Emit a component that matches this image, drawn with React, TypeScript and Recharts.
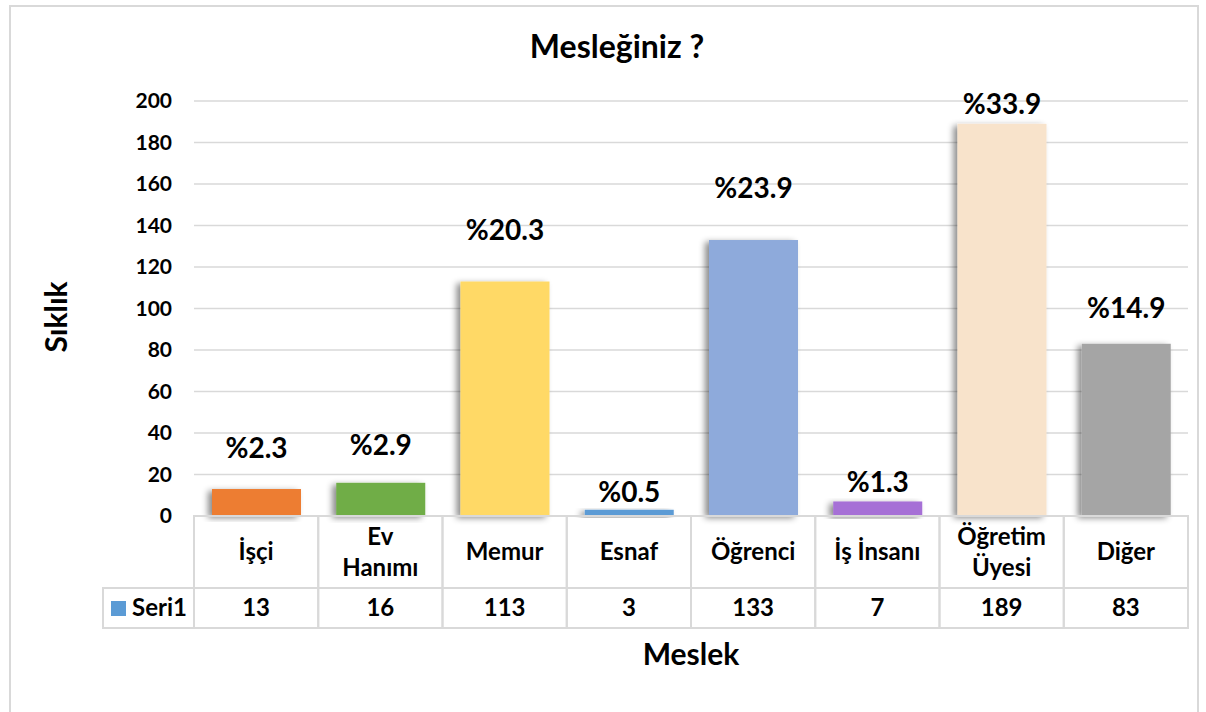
import React from 'react';
import { BarChart, Bar, XAxis, YAxis, CartesianGrid, LabelList } from 'recharts';

const categories = ['İşçi', 'Ev\nHanımı', 'Memur', 'Esnaf', 'Öğrenci', 'İş İnsanı', 'Öğretim\nÜyesi', 'Diğer'];
const counts = [13, 16, 113, 3, 133, 7, 189, 83];
const percents = [2.3, 2.9, 20.3, 0.5, 23.9, 1.3, 33.9, 14.9];
const yTicks = [0, 20, 40, 60, 80, 100, 120, 140, 160, 180, 200];
const seriesName = 'Seri1';

const barColors = ['#ed7d31', '#70ad47', '#ffd966', '#5b9bd5', '#8eaadb', '#a66fd6', '#f8e3cb', '#a5a5a5'];
// gap between bar top and the baseline of its percentage label
const labelLift = [31, 28, 42, 8, 42, 9, 10, 26];

const data = categories.map((name, i) => ({ name, value: counts[i], pct: percents[i] }));

const W = 1190;
const H = 720;
const M = { top: 96, right: 11, left: 0, bottom: 97 };
const Y_W = 185;
const TABLE_H = 112;
const BAND = (W - M.left - M.right - Y_W) / categories.length;
const FONT = 'Lato, "Open Sans", sans-serif';
const LINE = '#d9d9d9';

const TableTick = (props: any) => {
  const { x, y, payload, index } = props;
  const left = x - BAND / 2;
  const lines = String(payload.value).split('\n');
  const text = { fontFamily: FONT, fontWeight: 700, fontSize: 24, fill: '#000' };
  return (
    <g>
      <rect x={left} y={y} width={BAND} height={72} fill="none" stroke={LINE} strokeWidth={2} />
      <rect x={left} y={y + 72} width={BAND} height={40} fill="none" stroke={LINE} strokeWidth={2} />
      {lines.length === 1 ? (
        <text x={x} y={y + 44} textAnchor="middle" {...text}>{lines[0]}</text>
      ) : (
        lines.map((l, i) => (
          <text key={i} x={x} y={y + 29 + i * 31} textAnchor="middle" {...text}>{l}</text>
        ))
      )}
      <text x={x} y={y + 100} textAnchor="middle" {...text}>{counts[index]}</text>
      {index === 0 && (
        <g>
          <rect x={left - 91} y={y + 72} width={91} height={40} fill="none" stroke={LINE} strokeWidth={2} />
          <rect x={left - 83} y={y + 85} width={15} height={15} fill="#5b9bd5" />
          <text x={left - 62} y={y + 100} {...text}>{seriesName}</text>
        </g>
      )}
    </g>
  );
};

const PctLabel = (props: any) => {
  const { x, y, width, value, index } = props;
  return (
    <text
      x={x + width / 2}
      y={y - labelLift[index]}
      textAnchor="middle"
      fontFamily={FONT}
      fontWeight={700}
      fontSize={28}
      fill="#000"
    >
      {'%' + Number(value).toFixed(1)}
    </text>
  );
};

const ShadowBar = (props: any) => {
  const { x, y, width, height, index } = props;
  if (!height || height <= 0) return null;
  return <rect x={x} y={y} width={width} height={height} fill={barColors[index] ?? props.fill} filter="url(#barShadow)" />;
};

export default function App() {
  return (
    <div style={{ position: 'absolute', left: 9, top: 5, width: W, height: H, background: '#fff' }}>
      <BarChart width={W} height={H} data={data} margin={M} barSize={89}>
        <defs>
          <filter id="barShadow" x="-20%" y="-20%" width="140%" height="140%">
            <feDropShadow dx={-4} dy={2} stdDeviation={3} floodColor="#000" floodOpacity={0.45} />
          </filter>
        </defs>
        <CartesianGrid vertical={false} stroke={LINE} strokeWidth={1.5} />
        <YAxis
          width={Y_W}
          domain={[0, 200]}
          ticks={yTicks}
          interval={0}
          axisLine={false}
          tickLine={false}
          tickSize={0}
          tickMargin={22}
          tick={{ fontFamily: FONT, fontWeight: 700, fontSize: 21, fill: '#000' }}
        />
        <XAxis
          dataKey="name"
          height={TABLE_H}
          interval={0}
          axisLine={false}
          tickLine={false}
          tickSize={0}
          tickMargin={0}
          tick={<TableTick />}
        />
        <Bar dataKey="value" isAnimationActive={false} shape={<ShadowBar />}>
          <LabelList dataKey="pct" content={<PctLabel />} />
        </Bar>
      </BarChart>
      <svg width={W} height={H} style={{ position: 'absolute', left: 0, top: 0, pointerEvents: 'none' }}>
        <text x={608} y={53} textAnchor="middle" fontFamily={FONT} fontWeight={700} fontSize={32} fill="#000">
          Mesleğiniz ?
        </text>
        <text transform="translate(58,312) rotate(-90)" textAnchor="middle" fontFamily={FONT} fontWeight={700} fontSize={30} fill="#000">
          Sıklık
        </text>
        <text x={682} y={660} textAnchor="middle" fontFamily={FONT} fontWeight={700} fontSize={30} fill="#000">
          Meslek
        </text>
      </svg>
      <div style={{ position: 'absolute', inset: 0, border: `2px solid ${LINE}`, pointerEvents: 'none' }} />
    </div>
  );
}
